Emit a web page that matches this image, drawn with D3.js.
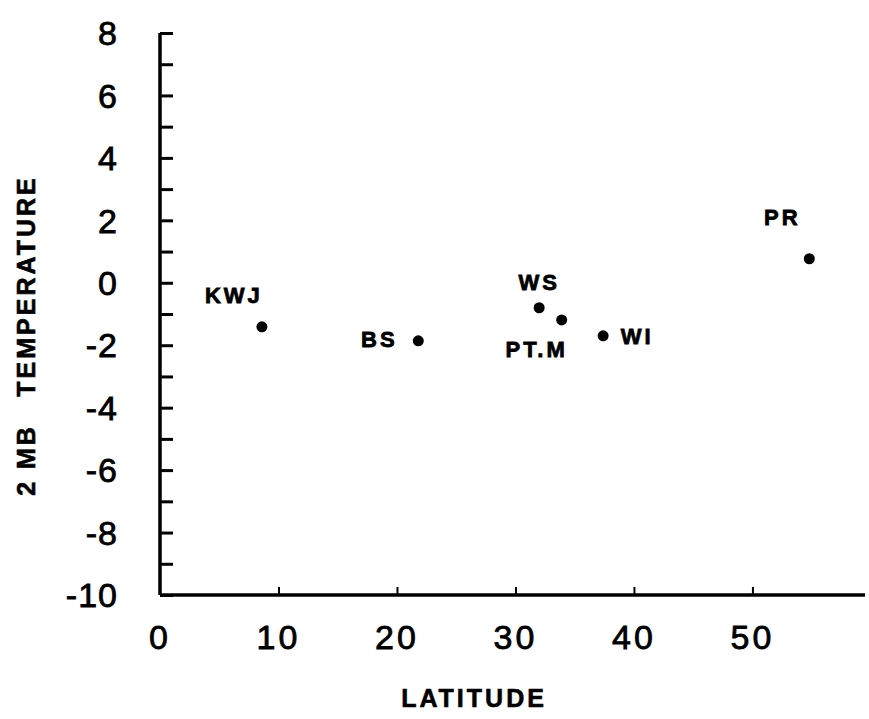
<!DOCTYPE html>
<meta charset="utf-8">
<script src="https://cdn.jsdelivr.net/npm/d3@7"></script>
<style>
  body { margin: 0; background: #fff; }
  text { font-family: "Liberation Sans", Arial, sans-serif; fill: #000; }
</style>
<div id="chart"></div>
<script>
// station names, latitude (deg) and 2 mb temperature
var stations = ["KWJ", "BS", "WS", "PT.M", "WI", "PR"];
var latitude = [8.6, 21.8, 32.0, 33.9, 37.4, 54.8];
var temperature = [-1.41, -1.86, -0.80, -1.19, -1.70, 0.77];

var xTicks = [0, 10, 20, 30, 40, 50];
var yTicks = [8, 6, 4, 2, 0, -2, -4, -6, -8, -10];

// where each station label sits relative to its dot
var labelOffset = {
  "KWJ": [-28, -24], "BS": [-39, 6], "WS": [0, -18],
  "PT.M": [-25, 37], "WI": [34, 8], "PR": [-27, -34]
};

var W = 869, H = 719;
var svg = d3.select("#chart").append("svg")
    .attr("width", W).attr("height", H);

var x = d3.scaleLinear().domain([0, 59.5]).range([160, 865]);
var y = d3.scaleLinear().domain([-10, 8]).range([595, 33]);

// y axis: ticks every unit, pointing inward
var yAxis = svg.append("g").attr("transform", "translate(160,0)")
    .call(d3.axisRight(y).tickValues(d3.range(-10, 9, 1)).tickSize(13).tickFormat(""));
yAxis.select(".domain").attr("d", "M0," + y(8) + "V" + y(-10)).attr("stroke-width", 3.5);
yAxis.selectAll(".tick line").attr("stroke-width", 3);

// x axis: ticks at tens, pointing up
var xAxis = svg.append("g").attr("transform", "translate(0,595)")
    .call(d3.axisTop(x).tickValues(xTicks.slice(1)).tickSize(8).tickFormat(""));
xAxis.select(".domain").attr("d", "M" + x(0) + ",0H" + x(59.5)).attr("stroke-width", 3.5);
xAxis.selectAll(".tick line").attr("stroke-width", 2);

// tick labels
svg.selectAll(".ylab").data(yTicks).enter().append("text")
    .attr("class", "ylab")
    .attr("x", 118)
    .attr("y", function(d) { return y(d); })
    .attr("dy", "0.36em")
    .attr("text-anchor", "end")
    .style("font-size", "34px")
    .style("letter-spacing", "1px")
    .style("stroke", "#000").style("stroke-width", 0.8)
    .text(function(d) { return d; });

svg.selectAll(".xlab").data(xTicks).enter().append("text")
    .attr("class", "xlab")
    .attr("x", function(d) { return x(d); })
    .attr("y", 649)
    .attr("text-anchor", "middle")
    .style("font-size", "34px")
    .style("letter-spacing", "3px")
    .style("stroke", "#000").style("stroke-width", 0.8)
    .text(function(d) { return d; });

// dots
var pts = stations.map(function(s, i) { return {name: s, lat: latitude[i], t: temperature[i]}; });
svg.selectAll(".dot").data(pts).enter().append("circle")
    .attr("cx", function(d) { return x(d.lat); })
    .attr("cy", function(d) { return y(d.t); })
    .attr("r", 5.5)
    .attr("fill", "#000");

svg.selectAll(".slab").data(pts).enter().append("text")
    .attr("x", function(d) { return x(d.lat) + labelOffset[d.name][0]; })
    .attr("y", function(d) { return y(d.t) + labelOffset[d.name][1]; })
    .attr("text-anchor", "middle")
    .style("font-size", "22px")
    .style("font-weight", "bold")
    .style("letter-spacing", "3px")
    .style("stroke", "#000").style("stroke-width", 0.8)
    .text(function(d) { return d.name; });

// axis titles
svg.append("text")
    .attr("x", 474).attr("y", 707)
    .attr("text-anchor", "middle")
    .style("font-size", "25px").style("font-weight", "bold").style("letter-spacing", "3px")
    .style("stroke", "#000").style("stroke-width", 0.6)
    .text("LATITUDE");

svg.append("text")
    .attr("transform", "translate(35,286) rotate(-90)")
    .attr("text-anchor", "middle")
    .style("font-size", "25px").style("font-weight", "bold").style("letter-spacing", "3px")
    .style("stroke", "#000").style("stroke-width", 0.6)
    .text("TEMPERATURE");

svg.append("text")
    .attr("transform", "translate(35,460) rotate(-90)")
    .attr("text-anchor", "middle")
    .style("font-size", "25px").style("font-weight", "bold").style("letter-spacing", "3px")
    .style("stroke", "#000").style("stroke-width", 0.6)
    .text("2 MB");
</script>
